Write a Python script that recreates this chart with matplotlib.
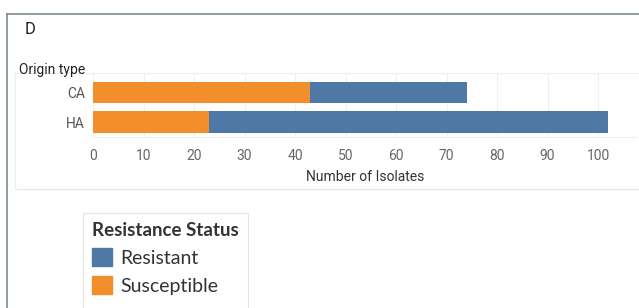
import matplotlib.pyplot as plt
from matplotlib.patches import Patch, Rectangle
from matplotlib.lines import Line2D

# data
origin_types = ['CA', 'HA']
susceptible = [43, 23]
resistant = [31, 79]          # totals 74 and 102
x_ticks = [0, 10, 20, 30, 40, 50, 60, 70, 80, 90, 100]

c_res = '#4e79a7'
c_sus = '#f28e2b'

W, H = 639, 308
fig = plt.figure(figsize=(W / 100, H / 100), dpi=100)
fig.patch.set_facecolor('white')

def fx(px):
    return px / W

def fy(py):
    return 1 - py / H

# outer card border
fig.add_artist(Line2D([fx(7), fx(7)], [fy(14), fy(310)], color='#7d8c8c', lw=1.2))
fig.add_artist(Line2D([fx(7), fx(640)], [fy(14), fy(14)], color='#7d8c8c', lw=1.2))
# inner panel
fig.add_artist(Line2D([fx(15), fx(640)], [fy(72.5), fy(72.5)], color='#eeeeee', lw=0.8))
fig.add_artist(Line2D([fx(15), fx(640)], [fy(188.5), fy(188.5)], color='#e6e6e6', lw=0.8))
fig.add_artist(Line2D([fx(15), fx(15)], [fy(72.5), fy(188.5)], color='#eeeeee', lw=0.8))

fig.text(fx(25), fy(29), 'D', fontsize=12, family='Roboto', color='#222222', va='center')
fig.text(fx(19), fy(70), 'Origin type', fontsize=10, family='Roboto', color='#222222', va='center')

ax = fig.add_axes([fx(93), fy(137), fx(637 - 93), (137 - 73) / H])
y = list(range(len(origin_types)))
ax.barh(y, susceptible, height=0.745, color=c_sus, zorder=3)
ax.barh(y, resistant, left=susceptible, height=0.745, color=c_res, zorder=3)

ax.set_xlim(0, 107.7)
ax.set_ylim(1.508, -0.661)
ax.set_xticks(x_ticks)
ax.set_yticks(y)
ax.set_yticklabels(origin_types)
ax.grid(axis='x', color='#efefef', lw=0.8, zorder=0)
for s in ['top', 'right', 'left']:
    ax.spines[s].set_visible(False)
ax.spines['bottom'].set_color('#eeeeee')
ax.tick_params(length=0)
ax.tick_params(axis='x', pad=9, labelsize=10, labelcolor='#666666')
ax.tick_params(axis='y', pad=6, labelsize=10, labelcolor='#555555')
for lab in ax.get_xticklabels() + ax.get_yticklabels():
    lab.set_family('Roboto')
ax.set_xlabel('Number of Isolates', fontsize=10, family='Roboto', color='#333333', labelpad=5)

# legend card
fig.add_artist(Rectangle((fx(83), fy(312)), fx(248 - 83), (312 - 213) / H,
                         transform=fig.transFigure, fill=False, edgecolor='#e4e4e4', lw=0.8))
handles = [Patch(color=c_res), Patch(color=c_sus)]
leg = fig.legend(handles, ['Resistant', 'Susceptible'], title='Resistance Status',
                 loc='upper left', bbox_to_anchor=(fx(88), fy(218)), frameon=False,
                 prop={'family': 'Lato', 'size': 14}, handlelength=1.03, handleheight=1.03,
                 handletextpad=0.45, labelspacing=0.49, borderaxespad=0, borderpad=0.2)
leg.get_title().set_fontproperties({'family': 'Lato', 'size': 13.5, 'weight': 'bold'})
leg.get_title().set_color('#333333')
leg._legend_box.align = 'left'
for t in leg.get_texts():
    t.set_color('#333333')

fig.savefig('out.png', dpi=100)
